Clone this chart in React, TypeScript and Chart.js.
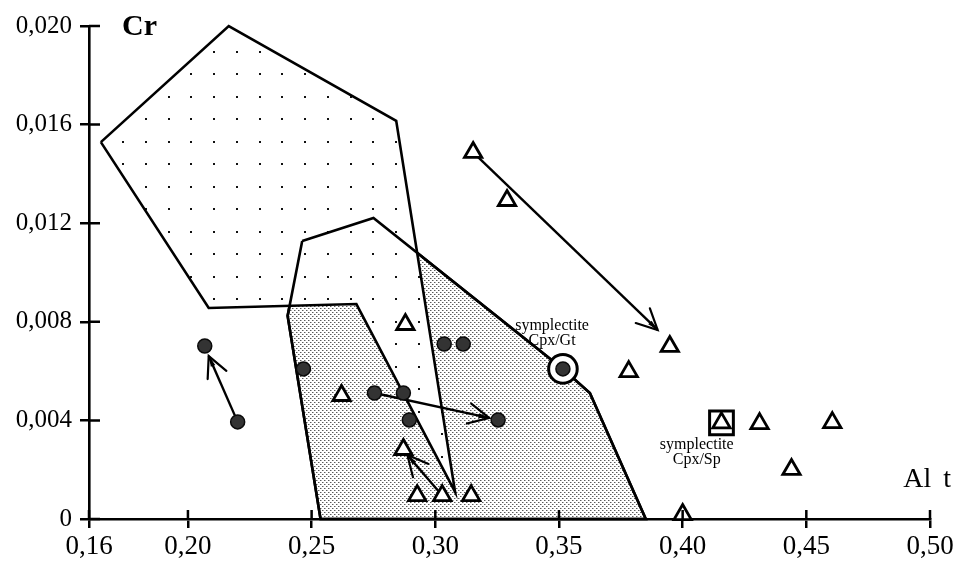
import React, { useEffect, useRef } from 'react';
import { Chart, registerables } from 'chart.js';

Chart.register(...registerables);

// ---- axis ticks ----
const xTickValues = [0.16, 0.2, 0.25, 0.3, 0.35, 0.4, 0.45, 0.5];
const xTickLabels = ['0,16', '0,20', '0,25', '0,30', '0,35', '0,40', '0,45', '0,50'];
const yTickValues = [0, 0.004, 0.008, 0.012, 0.016, 0.02];
const yTickLabels = ['0', '0,004', '0,008', '0,012', '0,016', '0,020'];

// ---- fields (polygons) ----
const dottedField = [
  { x: 0.1648, y: 0.01529 },
  { x: 0.2165, y: 0.02 },
  { x: 0.2842, y: 0.01615 },
  { x: 0.308, y: 0.0011 },
  { x: 0.2681, y: 0.00872 },
  { x: 0.2084, y: 0.00856 },
];
const greyField = [
  { x: 0.2462, y: 0.01128 },
  { x: 0.275, y: 0.01221 },
  { x: 0.3516, y: 0.00609 },
  { x: 0.3625, y: 0.00511 },
  { x: 0.3851, y: 0 },
  { x: 0.2536, y: 0 },
  { x: 0.2403, y: 0.00824 },
];

// ---- analyses ----
const symplectiteGt = { x: 0.3516, y: 0.00609 };
const symplectiteSp = { x: 0.4157, y: 0.0039 };

const circlePoints = [
  { x: 0.2068, y: 0.00702 },
  { x: 0.2201, y: 0.00394 },
  { x: 0.2467, y: 0.00609 },
  { x: 0.2754, y: 0.00511 },
  { x: 0.2871, y: 0.00511 },
  { x: 0.2895, y: 0.00402 },
  { x: 0.3036, y: 0.0071 },
  { x: 0.3113, y: 0.0071 },
  { x: 0.3254, y: 0.00402 },
  symplectiteGt,
];
const trianglePoints = [
  { x: 0.2621, y: 0.00501 },
  { x: 0.2879, y: 0.00789 },
  { x: 0.2871, y: 0.00282 },
  { x: 0.2927, y: 0.00095 },
  { x: 0.3028, y: 0.00095 },
  { x: 0.3145, y: 0.00095 },
  { x: 0.3153, y: 0.01487 },
  { x: 0.329, y: 0.01292 },
  { x: 0.3948, y: 0.007 },
  { x: 0.3782, y: 0.00598 },
  symplectiteSp,
  { x: 0.4311, y: 0.00387 },
  { x: 0.4605, y: 0.00391 },
  { x: 0.444, y: 0.00201 },
  { x: 0.4, y: 0.00018 },
];

// ---- evolution arrows (tail -> tip) ----
const arrowTails = [
  { x: 0.2201, y: 0.00394 },
  { x: 0.2754, y: 0.00511 },
  { x: 0.3153, y: 0.01487 },
  { x: 0.3028, y: 0.00095 },
];
const arrowTips = [
  { x: 0.2084, y: 0.00661 },
  { x: 0.3218, y: 0.0041 },
  { x: 0.3899, y: 0.00767 },
  { x: 0.2887, y: 0.0026 },
];

// ---- annotations ----
const gtNoteLines = ['symplectite', 'Cpx/Gt'];
const gtNoteAt = { x: 0.3472, y: 0.00768 };
const spNoteLines = ['symplectite', 'Cpx/Sp'];
const spNoteAt = { x: 0.4057, y: 0.00284 };

const SERIF = '"Liberation Serif", "DejaVu Serif", serif';

function makeDotPattern(ctx: CanvasRenderingContext2D) {
  const c = document.createElement('canvas');
  c.width = 91;
  c.height = 90;
  const g = c.getContext('2d')!;
  g.fillStyle = '#fff';
  g.fillRect(0, 0, 91, 90);
  g.fillStyle = '#111';
  for (let i = 0; i < 4; i++) {
    for (let j = 0; j < 4; j++) {
      g.fillRect(Math.round(9.25 + i * 22.75) - 1, Math.round(6.9 + j * 22.5) - 1, 2, 2);
    }
  }
  return ctx.createPattern(c, 'repeat')!;
}

function makeGreyPattern(ctx: CanvasRenderingContext2D) {
  const c = document.createElement('canvas');
  c.width = 4;
  c.height = 4;
  const g = c.getContext('2d')!;
  g.fillStyle = '#fff';
  g.fillRect(0, 0, 4, 4);
  g.fillStyle = '#5a5a5a';
  g.fillRect(0, 0, 1, 1);
  g.fillRect(2, 2, 1, 1);
  g.fillStyle = '#b0b0b0';
  g.fillRect(1, 0, 1, 1);
  g.fillRect(3, 2, 1, 1);
  return ctx.createPattern(c, 'repeat')!;
}

const decorations = {
  id: 'decorations',
  afterDatasetDraw(chart: any, args: any) {
    const ds = chart.data.datasets[args.index];
    if (!ds.isArrow) return;
    const pts = args.meta.data;
    if (pts.length < 2) return;
    const a = pts[0];
    const b = pts[1];
    const ang = Math.atan2(b.y - a.y, b.x - a.x);
    const ctx = chart.ctx;
    ctx.save();
    ctx.strokeStyle = '#000';
    ctx.fillStyle = '#000';
    ctx.lineWidth = 2.2;
    ctx.lineCap = 'round';
    const len = 23;
    const half = 0.46;
    const p1 = { x: b.x + len * Math.cos(ang + Math.PI + half), y: b.y + len * Math.sin(ang + Math.PI + half) };
    const p2 = { x: b.x + len * Math.cos(ang + Math.PI - half), y: b.y + len * Math.sin(ang + Math.PI - half) };
    ctx.beginPath();
    ctx.moveTo(p1.x, p1.y);
    ctx.lineTo(b.x, b.y);
    ctx.lineTo(p2.x, p2.y);
    ctx.stroke();
    const c1 = { x: b.x + 11 * Math.cos(ang + Math.PI + 0.22), y: b.y + 11 * Math.sin(ang + Math.PI + 0.22) };
    const c2 = { x: b.x + 11 * Math.cos(ang + Math.PI - 0.22), y: b.y + 11 * Math.sin(ang + Math.PI - 0.22) };
    ctx.beginPath();
    ctx.moveTo(b.x, b.y);
    ctx.lineTo(c1.x, c1.y);
    ctx.lineTo(c2.x, c2.y);
    ctx.closePath();
    ctx.fill();
    ctx.restore();
  },
  afterDraw(chart: any) {
    const { ctx, chartArea, scales } = chart;
    const xs = scales.x;
    const ys = scales.y;
    ctx.save();
    ctx.strokeStyle = '#000';
    ctx.lineWidth = 2.5;
    ctx.beginPath();
    xs.ticks.forEach((_t: any, i: number) => {
      const px = xs.getPixelForTick(i);
      ctx.moveTo(px, chartArea.bottom);
      ctx.lineTo(px, chartArea.bottom - 9);
    });
    ys.ticks.forEach((_t: any, i: number) => {
      const py = ys.getPixelForTick(i);
      ctx.moveTo(chartArea.left, py);
      ctx.lineTo(chartArea.left + 11, py);
    });
    ctx.stroke();

    ctx.fillStyle = '#000';
    ctx.textBaseline = 'alphabetic';
    ctx.textAlign = 'left';
    ctx.font = `bold 30px ${SERIF}`;
    ctx.fillText('Cr', chartArea.left + 33, chartArea.top + 9);
    ctx.font = `28px ${SERIF}`;
    ctx.textAlign = 'right';
    (ctx as any).wordSpacing = '5px';
    ctx.fillText('Al t', chartArea.right + 21, chartArea.bottom - 32);
    (ctx as any).wordSpacing = '0px';

    ctx.font = `16px ${SERIF}`;
    ctx.textAlign = 'center';
    const notes = [
      { at: gtNoteAt, lines: gtNoteLines },
      { at: spNoteAt, lines: spNoteLines },
    ];
    for (const n of notes) {
      const px = xs.getPixelForValue(n.at.x);
      const py = ys.getPixelForValue(n.at.y);
      n.lines.forEach((l, i) => ctx.fillText(l, px, py + i * 15));
    }
    ctx.restore();
  },
};

export default function App() {
  const ref = useRef<HTMLCanvasElement | null>(null);

  useEffect(() => {
    const canvas = ref.current!;
    const ctx = canvas.getContext('2d')!;
    const dotPattern = makeDotPattern(ctx);
    const greyPattern = makeGreyPattern(ctx);
    const closed = (pts: { x: number; y: number }[]) => [...pts, pts[0]];

    const polyBase = {
      showLine: true,
      pointRadius: 0,
      pointHoverRadius: 0,
      borderColor: '#000',
      borderWidth: 2.6,
      tension: 0,
      clip: false as any,
    };

    const arrowSets = arrowTails.map((t, i) => ({
      ...polyBase,
      label: 'arrow' + i,
      data: [t, arrowTips[i]],
      fill: false,
      borderWidth: 2.4,
      isArrow: true,
      order: 70,
    }));

    const chart = new Chart(ctx, {
      type: 'scatter',
      data: {
        datasets: [
          {
            ...polyBase,
            label: 'grey field',
            data: closed(greyField),
            fill: 'shape',
            backgroundColor: greyPattern as any,
            order: 100,
          },
          {
            ...polyBase,
            label: 'dotted field',
            data: closed(dottedField),
            fill: 'shape',
            backgroundColor: dotPattern as any,
            order: 90,
          },
          {
            ...polyBase,
            label: 'grey field outline',
            data: closed(greyField),
            fill: false,
            order: 80,
          },
          ...(arrowSets as any[]),
          {
            label: 'ring',
            data: [symplectiteGt],
            pointStyle: 'circle',
            pointRadius: 14.3,
            backgroundColor: '#fff',
            borderColor: '#000',
            borderWidth: 3,
            order: 12,
            clip: false as any,
          },
          {
            label: 'circles',
            data: circlePoints,
            pointStyle: 'circle',
            pointRadius: 7,
            backgroundColor: '#333',
            borderColor: '#0a0a0a',
            borderWidth: 1.5,
            order: 10,
            clip: false as any,
          },
          {
            label: 'square',
            data: [symplectiteSp],
            pointStyle: 'rect',
            pointRadius: 16.8,
            backgroundColor: '#fff',
            borderColor: '#000',
            borderWidth: 3,
            order: 6,
            clip: false as any,
          },
          {
            label: 'triangles',
            data: trianglePoints,
            pointStyle: 'triangle',
            pointRadius: 10,
            backgroundColor: '#fff',
            borderColor: '#000',
            borderWidth: 2.8,
            order: 5,
            clip: false as any,
          },
        ] as any,
      },
      options: {
        responsive: false,
        animation: false,
        devicePixelRatio: 1,
        events: [],
        layout: { padding: { left: 0, right: 30, top: 26, bottom: 0 } },
        plugins: {
          legend: { display: false },
          tooltip: { enabled: false },
          filler: { drawTime: 'beforeDatasetDraw' } as any,
        },
        scales: {
          x: {
            type: 'linear',
            min: 0.16,
            max: 0.5,
            afterBuildTicks: (scale: any) => {
              scale.ticks = xTickValues.map((v) => ({ value: v }));
            },
            afterFit: (scale: any) => {
              scale.height = 50;
            },
            ticks: {
              autoSkip: false,
              maxRotation: 0,
              padding: 3,
              color: '#000',
              font: { family: SERIF, size: 27 },
              callback: (_v: any, i: number) => xTickLabels[i],
            },
            grid: {
              display: true,
              drawOnChartArea: false,
              drawTicks: true,
              tickLength: 9,
              lineWidth: 2.5,
              color: '#000',
            },
            border: { display: true, color: '#000', width: 2.6 },
          },
          y: {
            type: 'linear',
            min: 0,
            max: 0.02,
            afterBuildTicks: (scale: any) => {
              scale.ticks = yTickValues.map((v) => ({ value: v }));
            },
            afterFit: (scale: any) => {
              scale.width = 89;
            },
            ticks: {
              autoSkip: false,
              padding: 8,
              color: '#000',
              font: { family: SERIF, size: 25 },
              callback: (_v: any, i: number) => yTickLabels[i],
            },
            grid: {
              display: true,
              drawOnChartArea: false,
              drawTicks: true,
              tickLength: 9,
              lineWidth: 2.5,
              color: '#000',
            },
            border: { display: true, color: '#000', width: 2.6 },
          },
        },
      },
      plugins: [decorations as any],
    });

    return () => chart.destroy();
  }, []);

  return (
    <div style={{ position: 'absolute', left: 0, top: 0, width: 960, height: 569, background: '#fff' }}>
      <canvas ref={ref} width={960} height={569} style={{ display: 'block' }} />
    </div>
  );
}
